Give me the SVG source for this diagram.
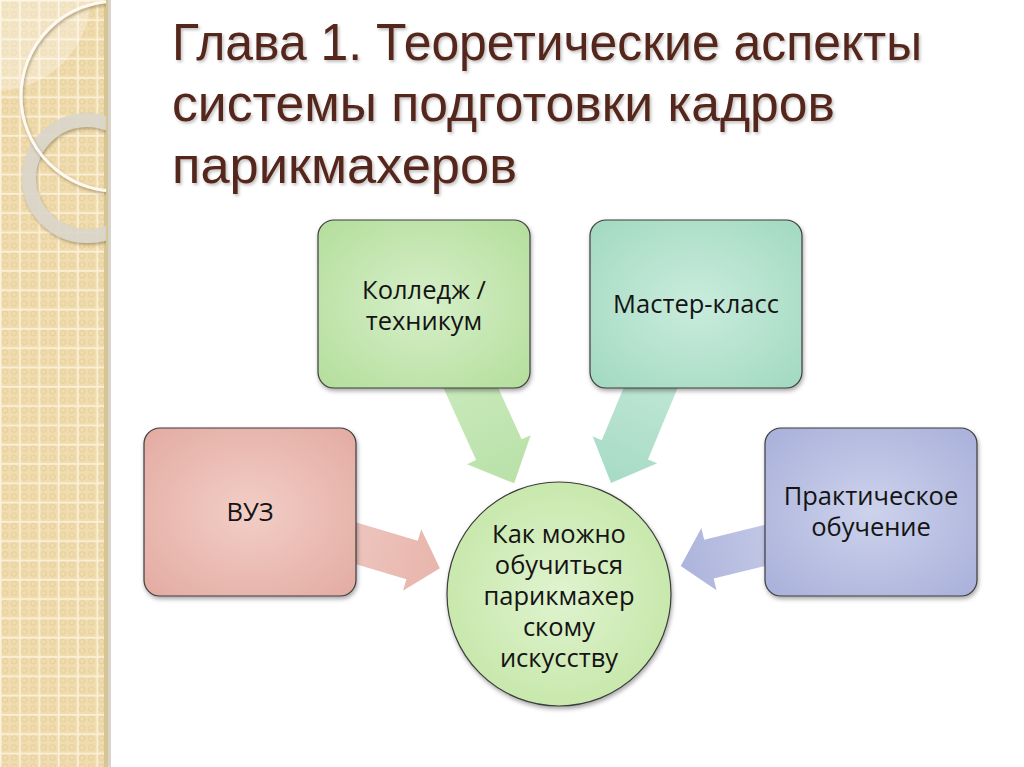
<svg xmlns="http://www.w3.org/2000/svg" width="1024" height="767" viewBox="0 0 1024 767">
<defs>
<style>
.title{font-family:"Liberation Sans","Open Sans",sans-serif;font-size:52px;fill:#55271c;}
.lbl{font-family:"Open Sans","Liberation Sans",sans-serif;font-size:25.5px;fill:#141414;text-anchor:middle;}
.box{stroke:#3c3c3c;stroke-width:1.2;filter:url(#sh);}
.arrow{stroke:none;}
</style>
<pattern id="tex" width="19.3" height="19.3" patternUnits="userSpaceOnUse">
<rect width="19.3" height="19.3" fill="#f0dcae"/>
<circle cx="5" cy="5" r="2.6" fill="none" stroke="#e6cf9c" stroke-width="1"/>
<circle cx="14" cy="5" r="2.6" fill="none" stroke="#e6cf9c" stroke-width="1"/>
<circle cx="5" cy="14" r="2.6" fill="none" stroke="#e6cf9c" stroke-width="1"/>
<circle cx="14" cy="14" r="2.6" fill="none" stroke="#e6cf9c" stroke-width="1"/>
<rect x="0" y="0" width="19.3" height="1.6" fill="#fbf1da"/>
<rect x="0" y="0" width="1.6" height="19.3" fill="#fbf1da"/>
</pattern>
<clipPath id="strip"><rect x="0" y="0" width="106" height="767"/></clipPath>
<filter id="sh" x="-10%" y="-10%" width="125%" height="125%">
<feDropShadow dx="1" dy="2.5" stdDeviation="2" flood-color="#000" flood-opacity="0.35"/>
</filter>
<filter id="tsh" x="-5%" y="-10%" width="110%" height="130%">
<feDropShadow dx="1.5" dy="2" stdDeviation="1.5" flood-color="#000" flood-opacity="0.25"/>
</filter>
<filter id="ringsh" x="-20%" y="-20%" width="140%" height="140%">
<feDropShadow dx="1" dy="2" stdDeviation="1.5" flood-color="#6b5a3a" flood-opacity="0.5"/>
</filter>
<radialGradient id="gGreen" cx="0.5" cy="0.5" r="0.7">
<stop offset="0" stop-color="#d6efc8"/><stop offset="1" stop-color="#b4de9c"/>
</radialGradient>
<radialGradient id="gTeal" cx="0.5" cy="0.5" r="0.7">
<stop offset="0" stop-color="#c9ecdd"/><stop offset="1" stop-color="#a2d9c0"/>
</radialGradient>
<radialGradient id="gPink" cx="0.5" cy="0.5" r="0.7">
<stop offset="0" stop-color="#f2cec6"/><stop offset="1" stop-color="#e3aba2"/>
</radialGradient>
<radialGradient id="gBlue" cx="0.5" cy="0.5" r="0.7">
<stop offset="0" stop-color="#cdd2ec"/><stop offset="1" stop-color="#a9b0da"/>
</radialGradient>
<radialGradient id="gCircle" cx="0.5" cy="0.5" r="0.6">
<stop offset="0" stop-color="#e0f3cf"/><stop offset="1" stop-color="#c3e6a6"/>
</radialGradient>
<linearGradient id="aPink" x1="0" y1="0" x2="1" y2="0">
<stop offset="0" stop-color="#edc6bf"/><stop offset="1" stop-color="#e8b5ab"/>
</linearGradient>
<linearGradient id="aGreen" x1="0" y1="0" x2="1" y2="0">
<stop offset="0" stop-color="#c9e9bb"/><stop offset="1" stop-color="#b9e1a8"/>
</linearGradient>
<linearGradient id="aTeal" x1="0" y1="0" x2="1" y2="0">
<stop offset="0" stop-color="#bfe6d6"/><stop offset="1" stop-color="#a7dbc5"/>
</linearGradient>
<linearGradient id="aBlue" x1="0" y1="0" x2="1" y2="0">
<stop offset="0" stop-color="#c3c8e6"/><stop offset="1" stop-color="#adb4dc"/>
</linearGradient>
</defs>

<rect x="0" y="0" width="1024" height="767" fill="#ffffff"/>

<g id="side-strip">
<rect x="0" y="0" width="106" height="767" fill="url(#tex)"/>
<rect x="104" y="0" width="4" height="767" fill="#d6c595"/>
<rect x="108" y="0" width="3" height="767" fill="#c9c2b4" opacity="0.7"/>
<g clip-path="url(#strip)">
<circle cx="-5" cy="-5" r="96" fill="#ffffff" opacity="0.3"/>
<circle cx="87" cy="178" r="58" fill="none" stroke="#dad6cb" stroke-width="14" opacity="0.9" filter="url(#ringsh)"/>
<circle cx="116" cy="96" r="95" fill="none" stroke="#fffaf0" stroke-width="3" filter="url(#ringsh)"/>
</g>
</g>

<g id="title" filter="url(#tsh)">
<text class="title" x="172" y="60" textLength="750" lengthAdjust="spacingAndGlyphs">Глава 1. Теоретические аспекты</text>
<text class="title" x="172" y="121" textLength="663" lengthAdjust="spacingAndGlyphs">системы подготовки кадров</text>
<text class="title" x="172" y="183" textLength="345" lengthAdjust="spacingAndGlyphs">парикмахеров</text>
</g>

<g id="connectors">
<path class="arrow" fill="url(#aPink)" transform="translate(345,540) rotate(16.6)" d="M0,-20 L70,-20 L70,-32 L99,0 L70,32 L70,20 L0,20 Z"/>
<path class="arrow" fill="url(#aGreen)" transform="translate(465,375) rotate(65.6)" d="M0,-25 L82,-25 L82,-35 L119,0 L82,35 L82,25 L0,25 Z"/>
<path class="arrow" fill="url(#aTeal)" transform="translate(656,375) rotate(112.6)" d="M0,-25 L81,-25 L81,-35 L117,0 L81,35 L81,25 L0,25 Z"/>
<path class="arrow" fill="url(#aBlue)" transform="translate(775,543) rotate(166.3)" d="M0,-20 L68,-20 L68,-32 L97,0 L68,32 L68,20 L0,20 Z"/>
</g>

<g id="node-college">
<rect class="box" x="318" y="220" width="212" height="168" rx="16" fill="url(#gGreen)"/>
<text class="lbl" x="424" y="299">Колледж /</text>
<text class="lbl" x="424" y="330">техникум</text>
</g>

<g id="node-master">
<rect class="box" x="590" y="220" width="212" height="168" rx="16" fill="url(#gTeal)"/>
<text class="lbl" x="696" y="313">Мастер-класс</text>
</g>

<g id="node-vuz">
<rect class="box" x="144" y="428" width="212" height="168" rx="16" fill="url(#gPink)"/>
<text class="lbl" x="250" y="521">ВУЗ</text>
</g>

<g id="node-practice">
<rect class="box" x="765" y="428" width="212" height="168" rx="16" fill="url(#gBlue)"/>
<text class="lbl" x="871" y="505">Практическое</text>
<text class="lbl" x="871" y="536">обучение</text>
</g>

<g id="node-center">
<circle class="box" cx="559" cy="594" r="112" fill="url(#gCircle)"/>
<text class="lbl" x="559" y="543">Как можно</text>
<text class="lbl" x="559" y="574">обучиться</text>
<text class="lbl" x="559" y="605">парикмахер</text>
<text class="lbl" x="559" y="636">скому</text>
<text class="lbl" x="559" y="667">искусству</text>
</g>
</svg>
